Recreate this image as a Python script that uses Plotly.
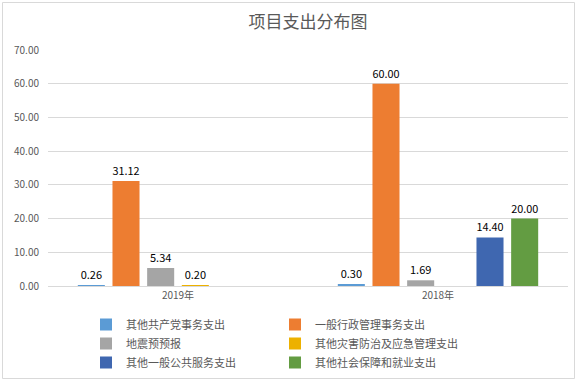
import plotly.graph_objects as go

categories = ["2019年", "2018年"]
series_names = [
    "其他共产党事务支出",
    "一般行政管理事务支出",
    "地震预预报",
    "其他灾害防治及应急管理支出",
    "其他一般公共服务支出",
    "其他社会保障和就业支出",
]
s1 = [0.26, 0.30]
s2 = [31.12, 60.00]
s3 = [5.34, 1.69]
s4 = [0.20, None]
s5 = [None, 14.40]
s6 = [None, 20.00]
series_values = [s1, s2, s3, s4, s5, s6]
colors = ["#5B9BD5", "#ED7D31", "#A5A5A5", "#EDB100", "#3F67B0", "#639C42"]
y_ticks = [0, 10, 20, 30, 40, 50, 60, 70]

W, H = 577, 382
ml, mr, mt, mb = 48, 9, 50, 96

font_family = "Noto Sans CJK SC, Noto Sans, sans-serif"
fig = go.Figure()
for name, vals, col in zip(series_names, series_values, colors):
    fig.add_trace(go.Bar(
        x=categories, y=vals, name=name,
        marker=dict(color=col, line=dict(width=0)),
        text=[None if v is None else f"{v:.2f}" for v in vals],
        textposition="outside",
        textfont=dict(size=11, color="#000000", family=font_family),
        cliponaxis=False,
    ))

pw = W - ml - mr
ph = H - mt - mb
def px_x(p):
    return (p - ml) / pw
def px_y(p):
    return (H - mb - p) / ph

fig.update_layout(
    width=W, height=H,
    margin=dict(l=ml, r=mr, t=mt, b=mb, pad=0, autoexpand=False),
    paper_bgcolor="white", plot_bgcolor="white",
    barmode="group", bargap=0.2, bargroupgap=0.22,
    font=dict(family=font_family, color="#595959"),
    title=dict(text="项目支出分布图", x=0.5, xref="paper", xanchor="center",
               y=1 - 22 / H, yref="container", yanchor="middle",
               font=dict(size=17, color="#595959", family=font_family)),
    xaxis=dict(showline=True, linecolor="#D9D9D9", linewidth=1, ticks="",
               tickfont=dict(size=10, color="#595959"), showgrid=False),
    yaxis=dict(range=[0, 70], tickvals=y_ticks, tickformat=".2f",
               showgrid=True, gridcolor="#D9D9D9", gridwidth=1,
               zeroline=False, showline=False, ticks="",
               tickfont=dict(size=10, color="#595959"), ticklabelstandoff=8),
    legend=dict(orientation="h", x=px_x(86), xanchor="left",
                y=px_y(310), yanchor="top", entrywidth=144,
                font=dict(size=11, color="#595959", family=font_family),
                itemwidth=30, tracegroupgap=0, traceorder="normal"),
    showlegend=True,
    shapes=[dict(type="rect", xref="paper", yref="paper",
                 x0=px_x(2.5), x1=px_x(574.5), y0=px_y(378.5), y1=px_y(2.5),
                 line=dict(color="#D9D9D9", width=1), layer="below")],
)
fig.write_html(
    "out.html",
    config={"displayModeBar": False},
    post_script="document.body.style.margin='0';document.body.style.overflow='hidden';",
)
